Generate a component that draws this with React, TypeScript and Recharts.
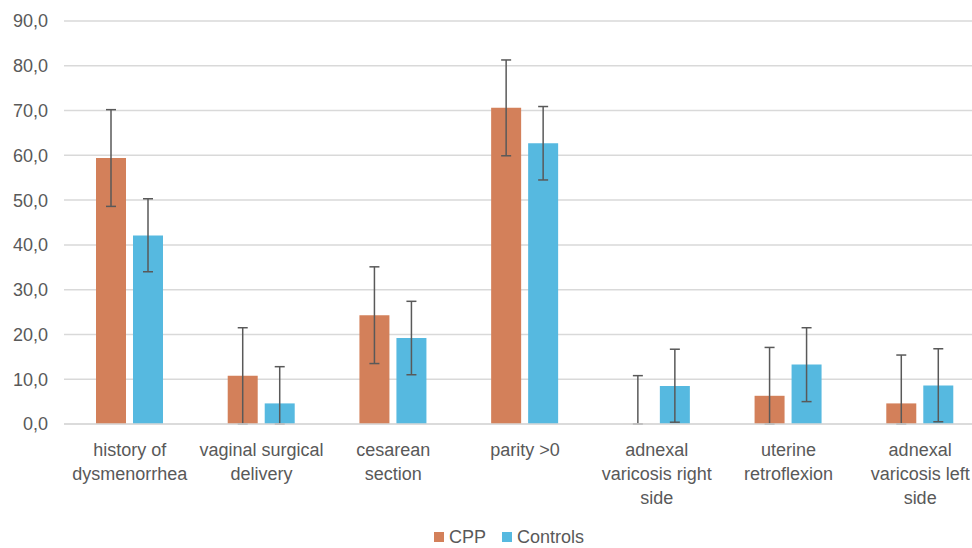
import { BarChart, Bar, XAxis, YAxis, CartesianGrid, ErrorBar, Legend } from 'recharts';

const categories = [
  'history of\ndysmenorrhea',
  'vaginal surgical\ndelivery',
  'cesarean\nsection',
  'parity >0',
  'adnexal\nvaricosis right\nside',
  'uterine\nretroflexion',
  'adnexal\nvaricosis left\nside',
];

// CPP for adnexal varicosis right side reads as ~0 (only its error bar shows)
const cppValues = [59.4, 10.8, 24.3, 70.6, 0.01, 6.3, 4.6];
const cppLow = [48.6, 0, 13.5, 59.9, 0, 0, 0];
const cppHigh = [70.2, 21.5, 35.1, 81.3, 10.8, 17.1, 15.4];

const controlValues = [42.1, 4.6, 19.2, 62.7, 8.5, 13.3, 8.6];
const controlLow = [34.0, 0, 11.0, 54.5, 0.4, 5.0, 0.5];
const controlHigh = [50.3, 12.8, 27.4, 70.9, 16.7, 21.5, 16.8];

const yTicks = [0, 10, 20, 30, 40, 50, 60, 70, 80, 90];

const CPP_COLOR = '#D3805A';
const CTRL_COLOR = '#56B9E0';
const TEXT_COLOR = '#595959';
const FONT = "'Liberation Sans', Arial, sans-serif";

const data = categories.map((name, i) => ({
  name,
  cpp: cppValues[i],
  cppErr: [Math.max(0, cppValues[i] - cppLow[i]), cppHigh[i] - cppValues[i]],
  controls: controlValues[i],
  controlsErr: [controlValues[i] - controlLow[i], controlHigh[i] - controlValues[i]],
}));

const CategoryTick = (props: any) => {
  const { x, y, payload } = props;
  const lines = String(payload.value).split('\n');
  return (
    <text x={x} y={y} textAnchor="middle" fill={TEXT_COLOR} fontSize={18} fontFamily={FONT}>
      {lines.map((line, i) => (
        <tspan key={i} x={x} dy={24}>
          {line}
        </tspan>
      ))}
    </text>
  );
};

const LegendContent = () => (
  <div
    style={{
      display: 'flex',
      justifyContent: 'center',
      gap: 16,
      fontFamily: FONT,
      fontSize: 18,
      lineHeight: '16px',
      color: TEXT_COLOR,
      paddingLeft: 32,
      paddingTop: 15,
    }}
  >
    {[
      { label: 'CPP', color: CPP_COLOR },
      { label: 'Controls', color: CTRL_COLOR },
    ].map((item) => (
      <div key={item.label} style={{ display: 'flex', alignItems: 'center', gap: 5 }}>
        <span style={{ width: 10, height: 10, background: item.color, display: 'inline-block' }} />
        <span>{item.label}</span>
      </div>
    ))}
  </div>
);

export default function App() {
  return (
    <div
      style={{
        position: 'absolute',
        left: 0,
        top: 0,
        width: 972,
        height: 548,
        overflow: 'hidden',
        background: '#fff',
      }}
    >
      <BarChart
        width={986}
        height={548}
        data={data}
        margin={{ top: 21, right: 0, left: 0, bottom: 0 }}
        barSize={30}
        barGap={7}
      >
        <CartesianGrid vertical={false} stroke="#D9D9D9" strokeWidth={1.5} />
        <XAxis
          dataKey="name"
          axisLine={{ stroke: '#D9D9D9', strokeWidth: 1.5 }}
          tickLine={false}
          tick={<CategoryTick />}
          interval={0}
          height={90}
        />
        <YAxis
          domain={[0, 90]}
          ticks={yTicks}
          axisLine={false}
          tickLine={false}
          tickSize={0}
          tickMargin={16}
          width={64}
          tickFormatter={(v: number) => v.toFixed(1).replace('.', ',')}
          tick={{ fill: TEXT_COLOR, fontSize: 18, fontFamily: FONT }}
        />
        <Legend verticalAlign="bottom" height={34} content={<LegendContent />} />
        <Bar dataKey="cpp" name="CPP" fill={CPP_COLOR} isAnimationActive={false}>
          <ErrorBar dataKey="cppErr" width={5} stroke="#595959" strokeWidth={1.5} />
        </Bar>
        <Bar dataKey="controls" name="Controls" fill={CTRL_COLOR} isAnimationActive={false}>
          <ErrorBar dataKey="controlsErr" width={5} stroke="#595959" strokeWidth={1.5} />
        </Bar>
      </BarChart>
    </div>
  );
}
